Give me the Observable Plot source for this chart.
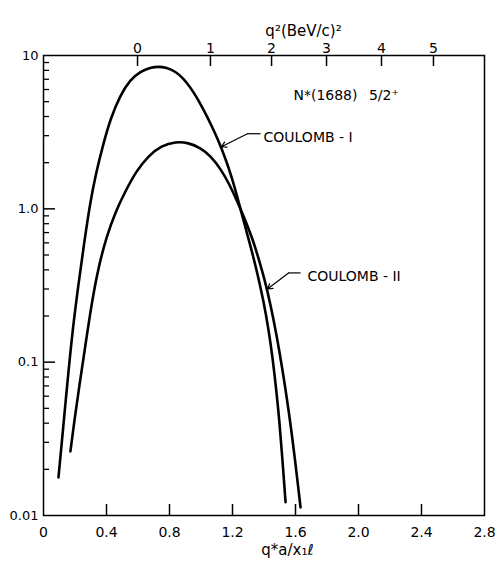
<!DOCTYPE html>
<html><head><meta charset="utf-8">
<script src="https://cdn.jsdelivr.net/npm/d3@7"></script>
<script src="https://cdn.jsdelivr.net/npm/@observablehq/plot@0.6"></script>
<style>body{margin:0;background:#fff}</style>
</head><body><div id="chart"></div>
<script>
// Curve COULOMB-I
const coulombIx = [0.095,0.127,0.152,0.184,0.222,0.260,0.298,0.337,0.375,0.425,0.489,0.552,0.616,0.679,0.730,0.781,0.838,0.889,0.933,0.978,1.022,1.067,1.111,1.156,1.194,1.232,1.276,1.321,1.359,1.397,1.429,1.454,1.479,1.498,1.517,1.537];
const coulombIy = [0.0177,0.0394,0.0740,0.160,0.324,0.618,1.13,1.77,2.54,3.88,5.56,6.97,7.86,8.35,8.47,8.35,7.86,7.08,6.18,5.24,4.31,3.49,2.78,2.12,1.62,1.18,0.798,0.540,0.376,0.250,0.164,0.108,0.0646,0.0411,0.0232,0.0122];
// Curve COULOMB-II
const coulombIIx = [0.171,0.197,0.229,0.267,0.305,0.349,0.400,0.457,0.521,0.590,0.667,0.749,0.838,0.921,0.997,1.060,1.124,1.181,1.232,1.283,1.327,1.365,1.403,1.441,1.479,1.517,1.556,1.594,1.632];
const coulombIIy = [0.0262,0.0424,0.0718,0.131,0.239,0.418,0.656,0.956,1.31,1.77,2.22,2.58,2.74,2.70,2.50,2.22,1.83,1.44,1.11,0.835,0.637,0.478,0.349,0.239,0.152,0.090,0.0493,0.0247,0.0113];

// Axes
const xTickValues = [0,0.4,0.8,1.2,1.6,2.0,2.4,2.8];
const xTickLabels = ["0","0.4","0.8","1.2","1.6","2.0","2.4","2.8"];
const yMajor = [0.01,0.1,1,10];
const yLabels = ["0.01","0.1","1.0","10"];
const yMinor = [0.02,0.03,0.04,0.05,0.06,0.07,0.08,0.09,0.2,0.3,0.4,0.5,0.6,0.7,0.8,0.9,2,3,4,5,6,7,8,9];
const q2Labels = ["0","1","2","3","4","5"];
const q2Pos = [0.597,1.060,1.448,1.797,2.146,2.476];

const xTitle = "q*a/x\u2081\u2113";
const topTitle = "q\u00b2(BeV/c)\u00b2";

// Annotations (data coordinates)
const labels = [
  {text:"COULOMB - I", x:1.397, y:2.91},
  {text:"COULOMB - II", x:1.676, y:0.360},
  {text:"N*(1688)\u2002 5/2\u207a", x:1.587, y:5.48}
];
const leaders = [
  {x1:1.378, y1:3.09, x2:1.295, y2:3.09, x3:1.130, y3:2.54},
  {x1:1.632, y1:0.382, x2:1.556, y2:0.382, x3:1.422, y3:0.300}
];

const W = 498, H = 565, mT = 55, mB = 50, mL = 43, mR = 14;
const plotH = H - mT - mB, plotW = W - mL - mR;

const lineI = coulombIx.map((x,i)=>({x, y: coulombIy[i]}));
const lineII = coulombIIx.map((x,i)=>({x, y: coulombIIy[i]}));

const chart = Plot.plot({
  width: W, height: H,
  marginTop: mT, marginBottom: mB, marginLeft: mL, marginRight: mR,
  style: {fontFamily: "'DejaVu Sans', sans-serif", fontSize: "14px", background: "white", color: "black"},
  x: {domain: [0, 2.8]},
  y: {type: "log", domain: [0.01, 10]},
  marks: [
    Plot.frame({stroke: "black", strokeWidth: 1.5}),
    Plot.axisX(xTickValues, {anchor: "bottom", tickSize: 0, tickPadding: 12, label: null,
      tickFormat: d => xTickLabels[xTickValues.indexOf(d)], fontSize: 14}),
    Plot.axisX(q2Pos, {anchor: "top", tickSize: 0, tickPadding: 3, label: null,
      tickFormat: d => q2Labels[q2Pos.indexOf(d)], fontSize: 14}),
    Plot.axisY(yMajor, {anchor: "left", tickSize: 0, tickPadding: 5, label: null,
      tickFormat: d => yLabels[yMajor.indexOf(d)], fontSize: 13}),
    Plot.tickX(xTickValues.slice(1, -1), {x: d => d, insetTop: plotH - 11, strokeWidth: 1.5}),
    Plot.tickX(q2Pos, {x: d => d, insetBottom: plotH - 11, strokeWidth: 1.5}),
    Plot.tickY(yMajor.slice(1, -1), {y: d => d, insetRight: plotW - 12, strokeWidth: 1.5}),
    Plot.tickY(yMinor, {y: d => d, insetRight: plotW - 6, strokeWidth: 1.3}),
    Plot.line(lineI, {x: "x", y: "y", stroke: "black", strokeWidth: 2.6, curve: "basis"}),
    Plot.line(lineII, {x: "x", y: "y", stroke: "black", strokeWidth: 2.6, curve: "basis"}),
    Plot.link(leaders, {x1: "x1", y1: "y1", x2: "x2", y2: "y2", stroke: "black", strokeWidth: 1.2}),
    Plot.arrow(leaders, {x1: "x2", y1: "y2", x2: "x3", y2: "y3", stroke: "black", strokeWidth: 1.2, headLength: 7}),
    Plot.text(labels, {x: "x", y: "y", text: "text", textAnchor: "start", fontSize: 14}),
    Plot.text([xTitle], {x: () => 1.549, frameAnchor: "bottom", dy: 39, text: d => d, fontSize: 15}),
    Plot.text([topTitle], {x: () => 1.651, frameAnchor: "top", dy: -30, text: d => d, fontSize: 15})
  ]
});
document.getElementById("chart").appendChild(chart);
</script>
</body></html>
